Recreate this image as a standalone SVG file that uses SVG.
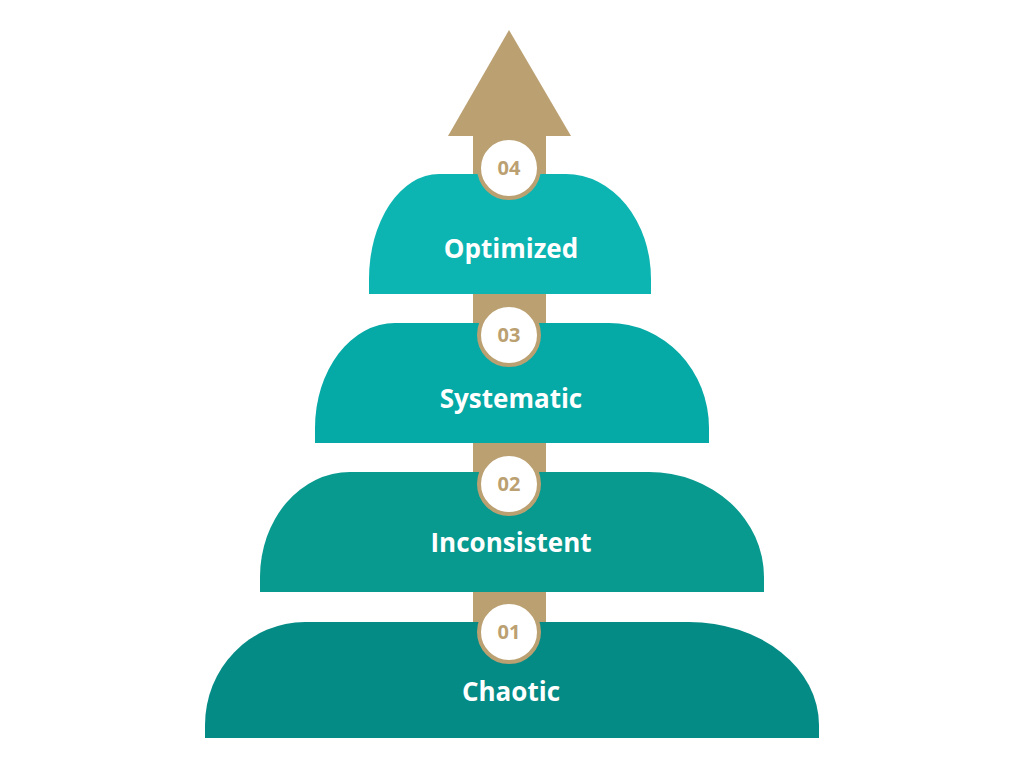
<svg xmlns="http://www.w3.org/2000/svg" width="1024" height="768" viewBox="0 0 1024 768">
<style>
.lbl{font-family:"Open Sans","Liberation Sans",sans-serif;font-weight:700;font-size:26px;fill:#fff;text-anchor:middle}
.num{font-family:"Open Sans","Liberation Sans",sans-serif;font-weight:700;font-size:20px;fill:#BBA072;text-anchor:middle}
.c{fill:#fff;stroke:#BBA072;stroke-width:4}
</style>
<rect width="1024" height="768" fill="#fff"/>
<g id="arrow">
<rect x="473" y="130" width="73" height="500" fill="#BBA072"/>
<polygon points="509,30 571,136 448,136" fill="#BBA072"/>
</g>
<g id="tier4">
<path d="M369,294 L369,279 A70 105 0 0 1 439,174 L566,174 A85 105 0 0 1 651,279 L651,294 Z" fill="#0DB5B2"/>
<text class="lbl" x="511" y="258">Optimized</text>
</g>
<g id="tier3">
<path d="M315,443 L315,428 A80 105 0 0 1 395,323 L609,323 A100 105 0 0 1 709,428 L709,443 Z" fill="#05A9A6"/>
<text class="lbl" x="511" y="408">Systematic</text>
</g>
<g id="tier2">
<path d="M260,592 L260,577 A90 105 0 0 1 350,472 L649,472 A115 105 0 0 1 764,577 L764,592 Z" fill="#08998F"/>
<text class="lbl" x="511" y="552">Inconsistent</text>
</g>
<g id="tier1">
<path d="M205,738 L205,725 A100 103 0 0 1 305,622 L689,622 A130 103 0 0 1 819,725 L819,738 Z" fill="#058B86"/>
<text class="lbl" x="511" y="701">Chaotic</text>
</g>
<g id="badges">
<circle class="c" cx="509" cy="168" r="30"/><text class="num" x="509" y="175">04</text>
<circle class="c" cx="509" cy="335" r="30"/><text class="num" x="509" y="342">03</text>
<circle class="c" cx="509" cy="484" r="30"/><text class="num" x="509" y="491">02</text>
<circle class="c" cx="509" cy="632" r="30"/><text class="num" x="509" y="639">01</text>
</g>
</svg>
